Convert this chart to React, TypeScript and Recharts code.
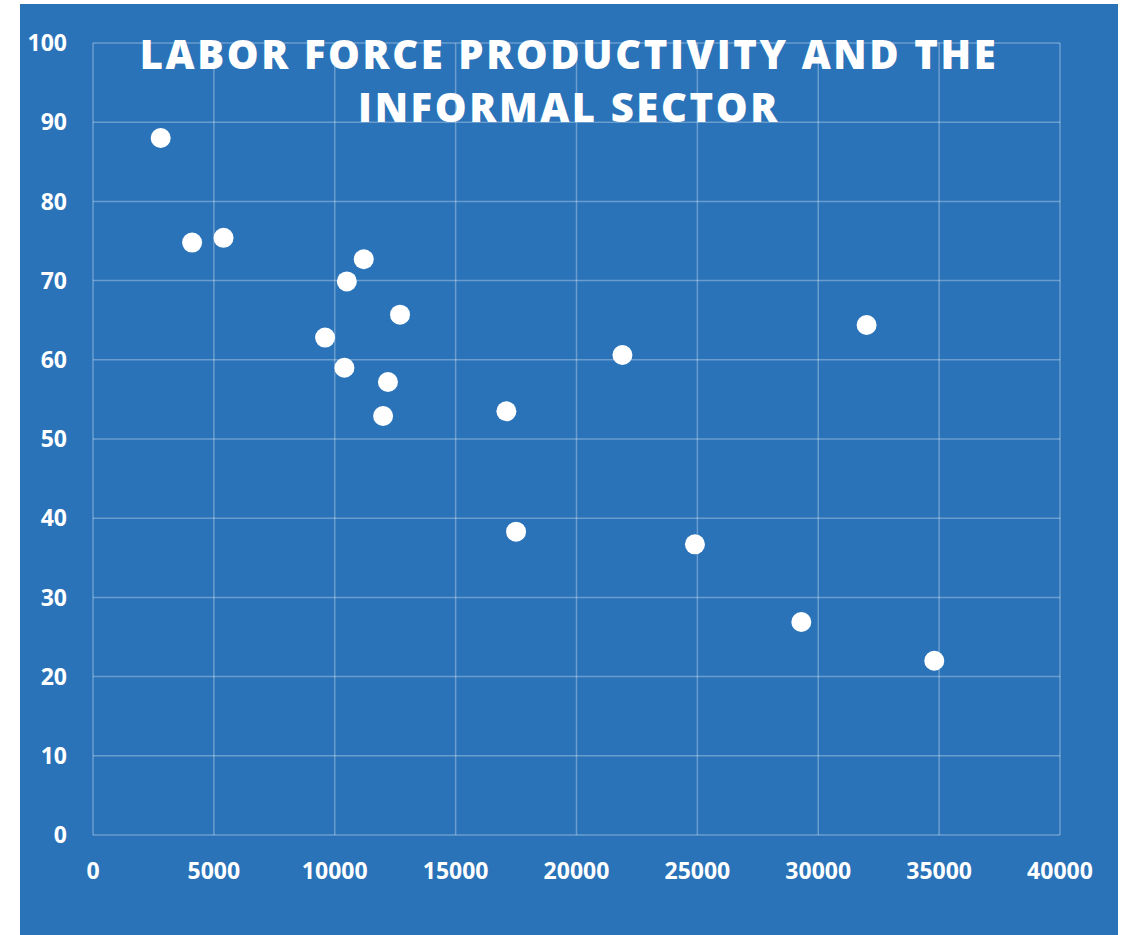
import { ScatterChart, Scatter, XAxis, YAxis, CartesianGrid } from 'recharts';

const productivity = [2800, 4100, 5400, 11200, 10500, 12700, 9600, 10400, 12200, 12000, 17100, 17500, 21900, 24900, 29300, 32000, 34800];
const informalShare = [88.0, 74.8, 75.4, 72.7, 69.9, 65.7, 62.8, 59.0, 57.2, 52.9, 53.5, 38.3, 60.6, 36.7, 26.9, 64.4, 22.0];
const xTicks = [0, 5000, 10000, 15000, 20000, 25000, 30000, 35000, 40000];
const yTicks = [0, 10, 20, 30, 40, 50, 60, 70, 80, 90, 100];

const points = productivity.map((x, i) => ({ x, y: informalShare[i] }));

const BG = '#2a73b9';
const FONT = '"Open Sans", sans-serif';

const tickStyle = { fill: '#ffffff', fontSize: 23, fontWeight: 700, fontFamily: FONT };

const Dot = (props: any) => {
  const { cx, cy } = props;
  return <circle cx={cx} cy={cy} r={10} fill="#ffffff" />;
};

export default function App() {
  return (
    <div style={{ position: 'absolute', left: 20, top: 4, width: 1098, height: 931, background: BG }}>
      <ScatterChart width={1098} height={931} margin={{ top: 39, right: 58, bottom: 0, left: 0 }}>
        <CartesianGrid stroke="rgba(255,255,255,0.3)" strokeWidth={1.5} />
        <XAxis
          type="number"
          dataKey="x"
          domain={[0, 40000]}
          ticks={xTicks}
          interval={0}
          height={100}
          axisLine={false}
          tickLine={false}
          tickSize={0}
          tickMargin={28}
          tick={tickStyle}
        />
        <YAxis
          type="number"
          dataKey="y"
          domain={[0, 100]}
          ticks={yTicks}
          interval={0}
          width={73}
          axisLine={false}
          tickLine={false}
          tickSize={0}
          tickMargin={26}
          tick={tickStyle}
        />
        <Scatter data={points} shape={Dot} isAnimationActive={false} />
      </ScatterChart>
      <div
        style={{
          position: 'absolute',
          left: 0,
          width: 1098,
          top: 23,
          textAlign: 'center',
          color: '#ffffff',
          fontFamily: FONT,
          fontWeight: 800,
          fontSize: 40,
          letterSpacing: 2.6,
          lineHeight: '53px',
          pointerEvents: 'none',
        }}
      >
        LABOR FORCE PRODUCTIVITY AND THE
        <br />
        INFORMAL SECTOR
      </div>
    </div>
  );
}
